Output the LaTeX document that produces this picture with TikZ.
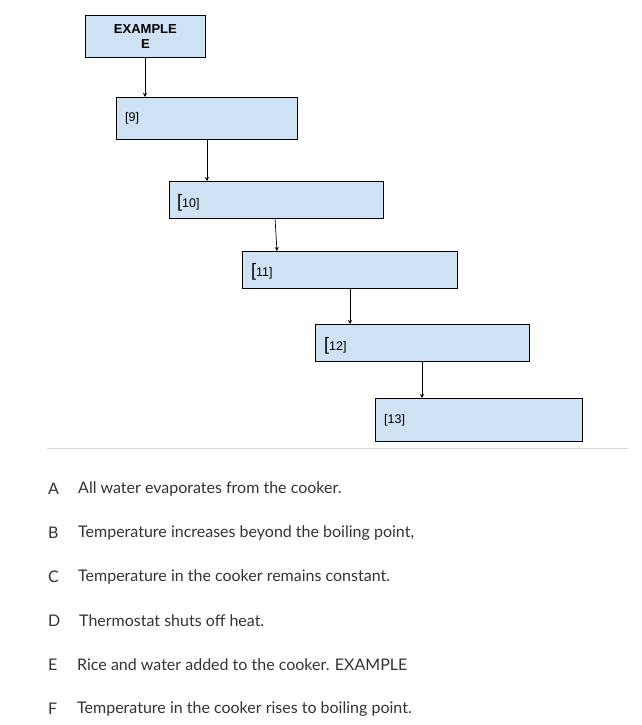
\documentclass[tikz,border=0pt]{standalone}
\usepackage{fontspec}
\setmainfont{Liberation Sans}
\newfontfamily\listfont{Lato}
\usetikzlibrary{arrows.meta}
\definecolor{boxblue}{HTML}{CFE2F3}
\definecolor{rulegray}{HTML}{DDDDDD}
\definecolor{txt}{HTML}{333333}
\tikzset{
  stepbox/.style={draw=black, line width=0.8pt, fill=boxblue, anchor=north west, inner sep=0pt},
  boxlabel/.style={anchor=west, inner sep=0pt, font=\fontsize{12.5}{14}\selectfont},
  conn/.style={draw=black, line width=0.7pt, -{Stealth[length=4pt,width=4pt]}},
  letter/.style={anchor=west, inner sep=0pt, text=txt, font=\listfont\fontsize{16}{19}\selectfont},
  item/.style={anchor=west, inner sep=0pt, text=txt, font=\listfont\fontsize{16}{19}\selectfont}
}
\begin{document}
\begin{tikzpicture}[x=1pt,y=-1pt]
\useasboundingbox (0,0) rectangle (642,725);
% boxes
\node[stepbox, minimum width=120pt, minimum height=42pt, align=center,
      font=\bfseries\fontsize{13}{14.5}\selectfont] (e) at (85,15) {EXAMPLE\\E};
\node[stepbox, minimum width=181pt, minimum height=42pt] (b9) at (116,97) {};
\node[stepbox, minimum width=214pt, minimum height=37pt] (b10) at (169,181) {};
\node[stepbox, minimum width=215pt, minimum height=37pt] (b11) at (242,251) {};
\node[stepbox, minimum width=214pt, minimum height=37pt] (b12) at (315,324) {};
\node[stepbox, minimum width=207pt, minimum height=43pt] (b13) at (375,398) {};
% labels
\node[boxlabel] (l9) at (125,118) {[9]};
\node[boxlabel] (l10) at (177,203) {{\fontsize{18}{19}\selectfont[}10]};
\node[boxlabel] (l11) at (251,272) {{\fontsize{18}{19}\selectfont[}11]};
\node[boxlabel] (l12) at (324,346) {{\fontsize{18}{19}\selectfont[}12]};
\node[boxlabel] (l13) at (384,420) {[13]};
% connectors
\coordinate (a1) at (145,57);  \coordinate (a2) at (145,97);
\coordinate (c1) at (207,139); \coordinate (c2) at (207,181);
\coordinate (d1) at (275,218); \coordinate (d2) at (277,251);
\coordinate (f1) at (350,288); \coordinate (f2) at (350,324);
\coordinate (g1) at (422,361); \coordinate (g2) at (422,398);
\draw[conn] (a1) -- (a2);
\draw[conn] (c1) -- (c2);
\draw[conn] (d1) -- (d2);
\draw[conn] (f1) -- (f2);
\draw[conn] (g1) -- (g2);
% rule
\coordinate (r1) at (47,448); \coordinate (r2) at (628,448);
\draw[rulegray, line width=1pt] (r1) -- (r2);
% list
\node[letter] (la) at (48,489) {A};
\node[item] (ta) at (78,489) {All water evaporates from the cooker.};
\node[letter] (lb) at (48,533) {B};
\node[item] (tb) at (78,533) {Temperature increases beyond the boiling point,};
\node[letter] (lc) at (48,577) {C};
\node[item] (tc) at (78,577) {Temperature in the cooker remains constant.};
\node[letter] (ld) at (48,621) {D};
\node[item] (td) at (79,621) {Thermostat shuts off heat.};
\node[letter] (le) at (48,665) {E};
\node[item] (te) at (77,665) {Rice and water added to the cooker. EXAMPLE};
\node[letter] (lf) at (48,709) {F};
\node[item] (tf) at (77,709) {Temperature in the cooker rises to boiling point.};
\end{tikzpicture}
\end{document}
